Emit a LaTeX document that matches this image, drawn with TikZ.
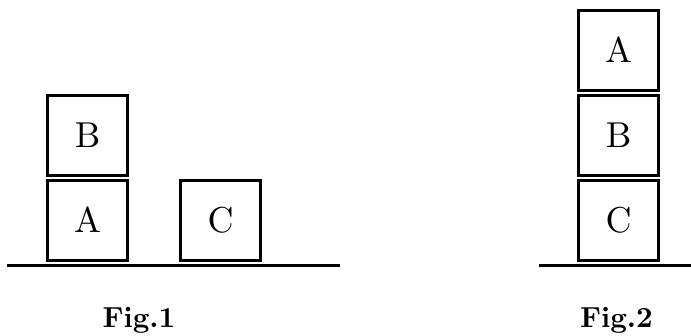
\documentclass[tikz,border=0pt]{standalone}
\font\blockfont=cmr10 at 36pt
\font\figfont=cmbx10 at 29pt
\begin{document}
\begin{tikzpicture}[x=1pt,y=-1pt,
  block/.style={draw,line width=2.2pt,minimum width=80pt,minimum height=80pt,inner sep=0pt,font=\blockfont},
  ground/.style={line width=2.6pt},
  figlabel/.style={font=\figfont,anchor=base}]
\useasboundingbox (0,0) rectangle (691,335);
% Fig.1
\node[block] (A1) at (87.5,220.5) {A};
\node[block] (B1) at (87.5,135.5) {B};
\node[block] (C1) at (220.5,220.5) {C};
\coordinate (g1l) at (7,265.5);
\coordinate (g1r) at (340,265.5);
\draw[ground] (g1l) -- (g1r);
\node[figlabel] (f1) at (139,327) {Fig.1};
% Fig.2
\node[block] (A2) at (618.5,50.5) {A};
\node[block] (B2) at (618.5,135.5) {B};
\node[block] (C2) at (618.5,220.5) {C};
\coordinate (g2l) at (539,265.5);
\coordinate (g2r) at (691,265.5);
\draw[ground] (g2l) -- (g2r);
\node[figlabel] (f2) at (616.5,327) {Fig.2};
\end{tikzpicture}
\end{document}
